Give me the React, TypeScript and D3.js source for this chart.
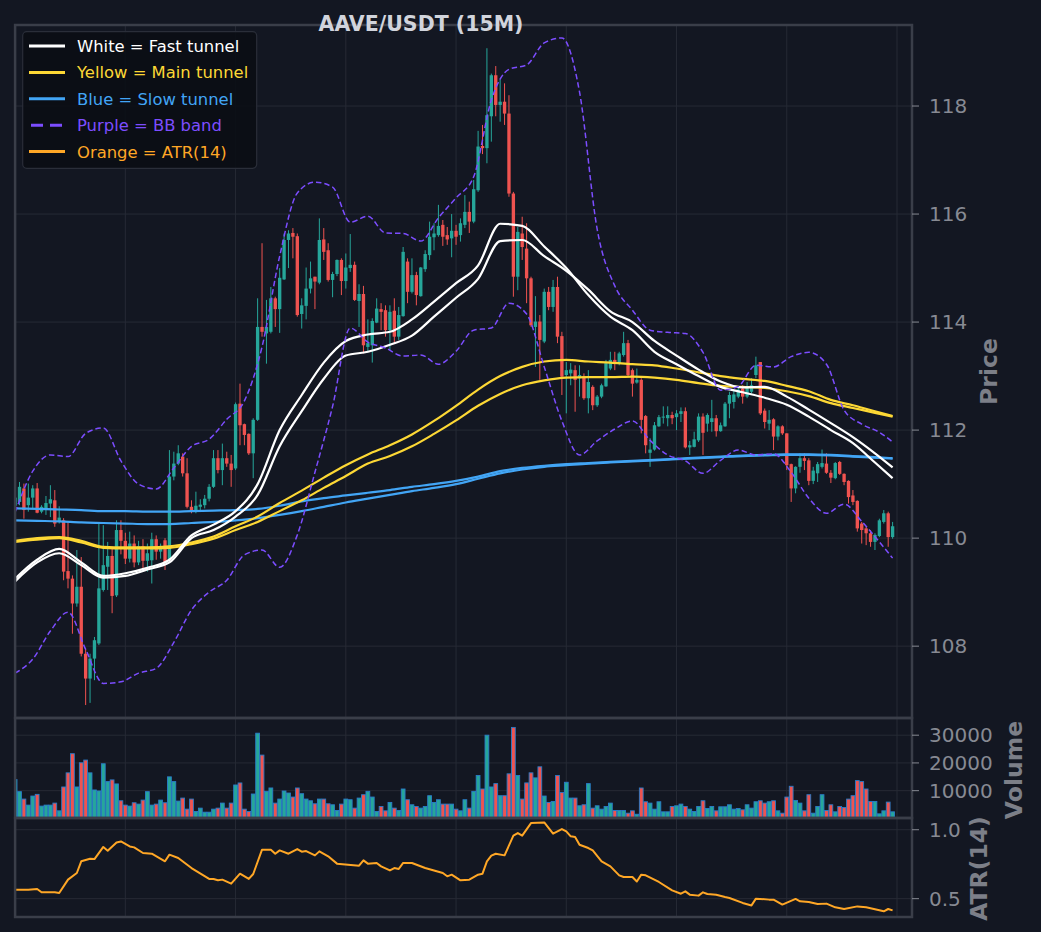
import * as d3 from "d3";

// --- 数据 ---
const opens = [
  110.6, 110.67, 110.92, 110.61, 110.75, 110.92, 110.49, 110.55, 110.64, 110.7,
  110.3, 110.33, 109.39, 109.25, 108.79, 109.1, 107.86, 107.4, 107.77, 108.05,
  109.04, 109.47, 109.67, 108.94, 110.15, 109.95, 109.62, 109.9, 109.55, 109.85,
  109.58, 109.59, 109.98, 109.75, 109.96, 109.6, 111.14, 111.38, 111.51, 111.2,
  110.58, 110.52, 110.58, 110.61, 110.73, 110.95, 111.48, 111.26, 111.48, 111.38,
  111.29, 112.49, 112.11, 111.93, 111.57, 112.19, 113.91, 113.79, 113.82, 114.44,
  114.24, 114.79, 115.52, 115.65, 115.59, 114.15, 114.3, 114.62, 114.84, 114.73,
  115.53, 115.33, 114.78, 114.89, 115.15, 114.76, 115.0, 115.06, 114.39, 114.52,
  113.54, 113.57, 113.99, 114.24, 114.22, 113.85, 114.21, 113.73, 114.11, 115.12,
  114.56, 114.87, 114.48, 114.98, 115.24, 115.57, 115.61, 115.8, 115.61, 115.55,
  115.69, 115.61, 115.8, 116.04, 115.86, 116.44, 117.26, 117.22, 117.81, 118.57,
  118.02, 118.08, 117.86, 116.38, 114.84, 115.64, 115.36, 114.81, 113.91, 114.01,
  113.64, 114.56, 114.28, 114.65, 113.74, 113.02, 113.05, 113.11, 112.96, 112.99,
  112.59, 112.8, 112.46, 112.62, 112.81, 113.14, 113.3, 113.24, 113.39, 113.61,
  113.11, 112.88, 112.93, 112.26, 111.58, 111.64, 112.07, 112.24, 112.22, 112.28,
  112.24, 112.3, 112.35, 111.68, 111.69, 111.81, 112.25, 112.12, 112.15, 112.22,
  111.98, 112.07, 112.49, 112.52, 112.62, 112.77, 112.62, 112.71, 113.02, 113.26,
  112.36, 112.12, 112.2, 111.88, 112.07, 111.94, 111.37, 110.92, 111.32, 111.48,
  111.44, 111.06, 111.2, 111.32, 111.38, 111.21, 111.11, 111.41, 111.19, 111.06,
  110.79, 110.69, 110.27, 110.18, 110.09, 109.93, 110.04, 110.3, 110.46, 110.02,
];
const highs = [
  110.95, 111.04, 111.01, 111.01, 110.98, 111.02, 110.61, 110.78, 110.98, 110.89,
  110.59, 110.37, 110.3, 109.31, 109.78, 109.65, 107.95, 107.86, 108.17, 110.27,
  110.24, 109.93, 109.84, 110.33, 110.33, 110.1, 110.12, 110.05, 109.95, 109.98,
  109.9, 110.1, 110.05, 109.9, 110.0, 111.63, 111.6, 111.72, 111.57, 111.48,
  110.7, 110.86, 110.72, 110.8, 111.0, 111.63, 111.63, 111.75, 111.6, 111.54,
  112.51, 112.86, 112.12, 111.94, 112.22, 114.44, 115.46, 114.41, 114.65, 114.47,
  115.0, 115.64, 115.7, 115.74, 115.64, 114.44, 115.01, 115.12, 114.84, 115.92,
  115.74, 115.46, 114.93, 115.16, 115.18, 115.27, 115.63, 115.12, 114.7, 114.67,
  114.05, 114.07, 114.44, 114.35, 114.31, 114.31, 114.44, 114.28, 115.39, 115.18,
  115.18, 114.93, 115.02, 115.33, 115.86, 115.83, 116.17, 115.89, 115.76, 116.0,
  115.8, 115.92, 116.35, 116.23, 116.63, 117.54, 117.65, 119.07, 118.6, 118.74,
  118.49, 118.42, 118.2, 116.41, 115.76, 115.95, 115.83, 114.84, 114.48, 114.13,
  114.62, 114.65, 114.78, 114.84, 113.82, 113.26, 113.24, 113.2, 113.2, 113.05,
  113.11, 112.83, 112.65, 112.86, 113.3, 113.45, 113.45, 113.45, 113.82, 113.67,
  113.14, 113.14, 112.96, 112.28, 111.85, 112.15, 112.28, 112.44, 112.44, 112.34,
  112.37, 112.42, 112.42, 111.8, 111.97, 112.31, 112.31, 112.31, 112.56, 112.28,
  112.14, 112.52, 112.71, 112.74, 112.8, 112.83, 112.89, 112.96, 113.36, 113.26,
  112.4, 112.37, 112.22, 112.09, 112.09, 111.94, 111.38, 111.33, 111.57, 111.57,
  111.48, 111.32, 111.41, 111.64, 111.57, 111.26, 111.41, 111.43, 111.2, 111.07,
  110.89, 110.7, 110.3, 110.21, 110.15, 110.09, 110.36, 110.52, 110.49, 110.3,
];
const lows = [
  110.5, 110.61, 110.36, 110.49, 110.55, 110.46, 110.46, 110.43, 110.39, 110.21,
  110.27, 109.22, 109.07, 108.23, 108.73, 107.81, 106.91, 106.95, 107.37, 108.02,
  109.01, 109.04, 108.61, 108.91, 109.7, 109.52, 109.55, 109.46, 109.5, 109.42,
  109.38, 109.16, 109.6, 109.62, 109.41, 109.55, 111.07, 111.35, 111.14, 110.55,
  110.46, 110.46, 110.5, 110.55, 110.68, 110.93, 111.2, 110.98, 111.32, 110.95,
  111.26, 111.72, 111.72, 111.54, 111.11, 112.17, 113.73, 113.23, 113.79, 113.91,
  113.8, 114.78, 115.0, 115.18, 114.1, 113.88, 114.05, 114.53, 114.24, 114.7,
  115.15, 114.75, 114.46, 114.85, 114.5, 114.62, 114.93, 114.39, 113.91, 113.42,
  113.45, 113.25, 113.98, 113.85, 113.73, 113.48, 113.61, 113.67, 114.1, 114.35,
  114.53, 114.31, 114.47, 114.93, 115.15, 115.33, 115.58, 115.41, 115.43, 115.2,
  115.43, 115.49, 115.74, 115.65, 115.83, 116.41, 117.11, 116.94, 117.34, 117.81,
  117.71, 117.65, 116.32, 114.47, 114.59, 115.15, 114.35, 113.91, 113.17, 112.93,
  113.61, 114.22, 114.19, 113.61, 112.65, 112.31, 112.83, 112.34, 112.62, 112.56,
  112.31, 112.37, 112.43, 112.59, 112.8, 113.11, 113.11, 113.2, 113.36, 112.99,
  112.62, 112.86, 111.94, 111.57, 111.32, 111.62, 112.06, 112.12, 112.07, 112.11,
  112.0, 112.15, 111.66, 111.54, 111.68, 111.78, 111.54, 111.97, 111.97, 111.88,
  111.97, 112.06, 112.22, 112.4, 112.59, 112.49, 112.59, 112.68, 112.96, 112.28,
  112.03, 112.0, 111.63, 111.81, 111.91, 111.26, 110.67, 110.83, 111.21, 111.26,
  110.98, 111.0, 111.04, 111.29, 111.19, 111.02, 111.09, 111.17, 110.98, 110.64,
  110.61, 110.12, 109.9, 109.87, 109.84, 109.78, 110.02, 110.27, 109.84, 109.99,
];
const closes = [
  110.75, 110.95, 110.52, 110.75, 110.92, 110.47, 110.58, 110.65, 110.72, 110.27,
  110.38, 109.38, 109.25, 108.79, 109.1, 107.86, 107.4, 107.77, 108.11, 109.07,
  109.5, 109.67, 108.93, 110.15, 109.95, 109.62, 109.9, 109.55, 109.85, 109.58,
  109.72, 109.98, 109.75, 109.82, 109.56, 111.14, 111.38, 111.57, 111.2, 110.58,
  110.52, 110.6, 110.62, 110.73, 110.95, 111.48, 111.26, 111.48, 111.38, 111.26,
  112.48, 112.09, 111.91, 111.57, 112.19, 113.91, 113.82, 113.91, 114.44, 114.24,
  114.82, 115.52, 115.64, 115.58, 114.13, 114.31, 114.62, 114.81, 114.75, 115.52,
  115.3, 114.78, 114.89, 115.15, 114.76, 115.01, 115.06, 114.41, 114.52, 113.57,
  113.61, 114.02, 114.25, 114.19, 113.85, 114.19, 113.73, 114.13, 115.3, 114.56,
  114.87, 114.5, 115.01, 115.26, 115.58, 115.64, 115.78, 115.58, 115.53, 115.69,
  115.58, 115.83, 116.04, 115.86, 116.46, 117.25, 117.22, 117.83, 118.57, 118.02,
  118.08, 117.86, 116.38, 114.84, 115.67, 115.39, 114.81, 113.94, 114.01, 113.67,
  114.56, 114.28, 114.65, 113.73, 112.99, 113.11, 113.12, 112.93, 113.02, 112.59,
  112.89, 112.46, 112.62, 112.83, 113.24, 113.3, 113.24, 113.42, 113.61, 113.02,
  112.86, 112.93, 112.19, 111.72, 111.64, 112.09, 112.24, 112.25, 112.28, 112.22,
  112.31, 112.35, 111.68, 111.72, 111.83, 112.25, 111.95, 112.28, 112.22, 111.98,
  112.09, 112.49, 112.65, 112.66, 112.75, 112.62, 112.81, 112.83, 113.2, 112.31,
  112.15, 112.19, 111.88, 112.07, 111.94, 111.35, 110.92, 111.32, 111.48, 111.43,
  111.06, 111.25, 111.37, 111.39, 111.21, 111.12, 111.39, 111.19, 111.04, 110.76,
  110.67, 110.18, 110.15, 110.09, 109.93, 110.06, 110.33, 110.46, 110.02, 110.22,
];
const volumes = [
  14000, 9640, 6970, 4790, 8060, 8670, 4430, 4790, 4790, 5520,
  2730, 11330, 16420, 23330, 11330, 20060, 21030, 16420, 10250, 9890,
  19700, 13270, 13880, 12430, 6360, 4790, 4430, 5640, 5150, 6600,
  9640, 4790, 5150, 6600, 5640, 14980, 13270, 6240, 7330, 3340,
  6970, 2490, 3700, 2240, 2240, 3340, 3700, 5520, 3700, 5520,
  12050, 12780, 3330, 2480, 8790, 30720, 22830, 9760, 10970, 5510,
  6970, 9880, 9150, 7700, 10970, 8900, 6970, 6360, 5270, 6970,
  6970, 5270, 4910, 2850, 5150, 6970, 6730, 3700, 7330, 8540,
  9760, 7700, 2480, 4300, 2730, 5760, 3700, 2850, 10600, 6730,
  4910, 4300, 3700, 4300, 8180, 5760, 6730, 5150, 5150, 5150,
  3330, 2730, 6730, 3700, 9750, 15450, 10600, 30000, 11330, 12540,
  8180, 8180, 16070, 32800, 15450, 6970, 12800, 16430, 14610, 18600,
  8060, 5760, 6120, 15450, 9390, 13030, 7330, 7330, 4550, 4910,
  12540, 3700, 4550, 3330, 4300, 5510, 2850, 2850, 2850, 1880,
  2730, 1500, 10970, 6000, 5510, 3330, 6000, 2370, 2370, 4300,
  4550, 5150, 4300, 3330, 2490, 4300, 6360, 3580, 4300, 2730,
  4180, 4180, 4910, 3330, 3580, 3090, 4910, 3700, 6000, 6360,
  5510, 6000, 6360, 2730, 1880, 7700, 11580, 6480, 5510, 2730,
  8540, 1880, 4300, 8540, 2850, 4910, 2370, 4300, 3940, 6970,
  8180, 13640, 13270, 10600, 6120, 6120, 1640, 2730, 5880, 2370,
];

// 通道线: 每 5 根 K 线读一个值
const lineIdx = [
  0, 5, 10, 15, 20, 25, 30, 35, 40, 45, 50, 55, 60, 65, 70, 75, 80, 85, 90, 95,
  100, 105, 110, 115, 120, 125, 130, 135, 140, 145, 150, 155, 160, 165, 170, 175,
  180, 185, 190, 195, 199,
];
const fastA = [
  109.25, 109.6, 109.8, 109.55, 109.3, 109.35, 109.45, 109.6, 110.05, 110.25,
  110.5, 111.0, 112.0, 112.65, 113.25, 113.65, 113.77, 113.82, 114.05, 114.38,
  114.72, 115.05, 115.82, 115.78, 115.4, 115.0, 114.5, 114.1, 113.85, 113.45,
  113.22, 113.0, 112.8, 112.7, 112.6, 112.47, 112.25, 112.0, 111.76, 111.4, 111.11,
];
const fastB = [
  109.2, 109.55, 109.72, 109.5, 109.27, 109.3, 109.42, 109.55, 110.0, 110.15,
  110.4, 110.8, 111.7, 112.35, 112.95, 113.38, 113.45, 113.58, 113.75, 114.1,
  114.45, 114.8, 115.5, 115.52, 115.22, 114.95, 114.6, 114.2, 114.0, 113.65,
  113.38, 113.12, 112.9, 112.79, 112.8, 112.62, 112.38, 112.13, 111.87, 111.57, 111.31,
];
const mainA = [
  109.95, 110.0, 110.02, 109.95, 109.84, 109.83, 109.83, 109.85, 109.92, 110.03,
  110.22, 110.4, 110.65, 110.88, 111.12, 111.35, 111.55, 111.72, 111.92, 112.17,
  112.45, 112.75, 113.0, 113.17, 113.27, 113.3, 113.27, 113.25, 113.22, 113.2,
  113.14, 113.07, 113.0, 112.95, 112.91, 112.82, 112.72, 112.56, 112.46, 112.35, 112.26,
];
const mainB = [
  109.93, 109.97, 110.0, 109.92, 109.82, 109.81, 109.81, 109.82, 109.89, 109.99,
  110.15, 110.3, 110.5, 110.7, 110.93, 111.15, 111.38, 111.52, 111.7, 111.93,
  112.18, 112.45, 112.67, 112.83, 112.92, 112.97, 112.98, 112.98, 112.99, 112.97,
  112.93, 112.87, 112.82, 112.8, 112.78, 112.72, 112.63, 112.5, 112.41, 112.32, 112.25,
];
const slowA = [
  110.55, 110.54, 110.53, 110.52, 110.5, 110.5, 110.49, 110.49, 110.5, 110.51,
  110.52, 110.54, 110.6, 110.68, 110.74, 110.79, 110.84, 110.89, 110.95, 111.0,
  111.06, 111.14, 111.24, 111.3, 111.34, 111.37, 111.39, 111.41, 111.43, 111.45,
  111.47, 111.49, 111.51, 111.53, 111.54, 111.55, 111.55, 111.54, 111.52, 111.5, 111.48,
];
const slowB = [
  110.33, 110.32, 110.31, 110.29, 110.28, 110.27, 110.26, 110.26, 110.28, 110.3,
  110.33, 110.37, 110.43, 110.5, 110.58, 110.66, 110.73, 110.8, 110.87, 110.93,
  111.0, 111.1, 111.2, 111.27, 111.32, 111.35, 111.38, 111.4, 111.42, 111.44,
  111.46, 111.48, 111.5, 111.52, 111.53, 111.54, 111.54, 111.53, 111.51, 111.49, 111.47,
];

// 布林带: 每 4 根读一个值
const bbIdx = [
  0, 4, 8, 12, 16, 20, 24, 28, 32, 36, 40, 44, 48, 52, 56, 60, 64, 68, 72, 76,
  80, 84, 88, 92, 96, 100, 104, 108, 112, 116, 120, 124, 128, 132, 136, 140, 144,
  148, 152, 156, 160, 164, 168, 172, 176, 180, 184, 188, 192, 196, 199,
];
const bbUpper = [
  110.48, 111.24, 111.54, 111.51, 111.94, 112.04, 111.43, 111.0, 110.91, 111.3,
  111.7, 111.83, 112.2, 112.54, 113.54, 115.22, 116.39, 116.59, 116.5, 115.85,
  115.96, 115.65, 115.64, 115.5, 115.93, 116.3, 116.69, 118.11, 118.68, 118.76,
  119.17, 119.26, 118.26, 115.72, 114.67, 114.22, 113.85, 113.81, 113.79, 113.44,
  112.74, 112.81, 113.2, 113.17, 113.36, 113.44, 113.22, 112.37, 112.11, 111.96, 111.78,
];
const bbLower = [
  107.5, 107.76, 108.28, 108.63, 107.94, 107.31, 107.34, 107.5, 107.59, 108.07,
  108.67, 109.0, 109.22, 109.69, 109.78, 109.46, 110.06, 111.22, 112.44, 113.89,
  113.63, 113.52, 113.37, 113.39, 113.22, 113.46, 113.85, 113.89, 114.35, 114.15,
  113.17, 112.17, 111.54, 111.8, 112.02, 112.17, 111.81, 111.54, 111.43, 111.2,
  111.44, 111.63, 111.54, 111.56, 111.22, 110.74, 110.46, 110.63, 110.31, 109.93, 109.63,
];

// ATR(14): 折线拐点
const atrIdx = [
  0, 3, 5, 6, 9, 10, 12, 14, 15, 17, 18, 20, 21, 23, 24, 26, 27, 29, 31, 34,
  35, 37, 40, 44, 45, 46, 47, 49, 51, 53, 54, 56, 58, 59, 60, 62, 64, 65, 66, 68,
  69, 71, 73, 78, 79, 80, 82, 83, 85, 86, 87, 88, 90, 93, 97, 98, 99, 101, 103, 105,
  106, 107, 108, 109, 111, 113, 114, 115, 117, 120, 122, 124, 125, 126, 127, 128, 130, 131, 133, 135,
  137, 138, 140, 141, 142, 143, 146, 149, 151, 152, 153, 155, 156, 157, 159, 161, 162, 165, 167, 168,
  171, 172, 174, 177, 178, 180, 182, 184, 186, 188, 191, 193, 197, 198, 199,
];
const atrVals = [
  0.565, 0.565, 0.57, 0.546, 0.546, 0.541, 0.638, 0.686, 0.771, 0.79, 0.787, 0.875, 0.848, 0.908, 0.915, 0.879, 0.872, 0.831, 0.826, 0.771,
  0.819, 0.795, 0.722, 0.643, 0.643, 0.633, 0.638, 0.609, 0.681, 0.643, 0.679, 0.855, 0.855, 0.826, 0.85, 0.826, 0.86, 0.841, 0.845, 0.814,
  0.843, 0.807, 0.754, 0.739, 0.778, 0.754, 0.759, 0.734, 0.705, 0.722, 0.715, 0.759, 0.759, 0.722, 0.686, 0.662, 0.674, 0.633, 0.638, 0.674,
  0.681, 0.771, 0.812, 0.826, 0.814, 0.957, 0.976, 0.957, 1.048, 1.053, 0.971, 1.005, 0.988, 0.952, 0.947, 0.891, 0.867, 0.85, 0.771, 0.734,
  0.669, 0.657, 0.657, 0.625, 0.674, 0.669, 0.621, 0.56, 0.536, 0.553, 0.529, 0.522, 0.546, 0.534, 0.529, 0.512, 0.505, 0.469, 0.451, 0.5,
  0.493, 0.493, 0.457, 0.498, 0.481, 0.476, 0.462, 0.464, 0.437, 0.425, 0.444, 0.437, 0.408, 0.425, 0.415,
];

const priceTicks = [108, 110, 112, 114, 116, 118];
const volTicks = [10000, 20000, 30000];
const atrTicks = [0.5, 1.0];
const xGrid = [0, 25, 50, 75, 100, 125, 150, 175, 200];

const legendItems = [
  { label: "White = Fast tunnel", color: "#ffffff", dash: "" },
  { label: "Yellow = Main tunnel", color: "#fdd835", dash: "" },
  { label: "Blue = Slow tunnel", color: "#42a5f5", dash: "" },
  { label: "Purple = BB band", color: "#7c4dff", dash: "12,7" },
  { label: "Orange = ATR(14)", color: "#ffa726", dash: "" },
];

const BG = "#131722";
const GRID = "#262a35";
const SPINE = "#3a3e49";
const TICK = "#878a93";
const UP = "#26a69a";
const DOWN = "#ef5350";
const FONT = "DejaVu Sans, sans-serif";

export default function App() {
  const left = 15.1;
  const right = 912;
  const top = 25;
  const mainBot = 718;
  const volBot = 818;
  const atrBot = 917;

  const x = d3.scaleLinear().domain([0, 203.4]).range([left, right]);
  const y = d3.scaleLinear().domain([106.67, 119.5]).range([mainBot, top]);
  const yv = d3.scaleLinear().domain([0, 36200]).range([volBot + 0.4, mainBot]);
  const ya = d3.scaleLinear().domain([0.367, 1.085]).range([atrBot, volBot]);

  const step = x(1) - x(0);
  const bodyW = step * 0.76;
  const volW = step * 0.86;

  const tunnel = (vals: number[]) =>
    d3
      .line<number>()
      .x((_, i) => x(lineIdx[i]))
      .y((v) => y(v))
      .curve(d3.curveMonotoneX)(vals) ?? "";
  const band = (vals: number[]) =>
    d3
      .line<number>()
      .x((_, i) => x(bbIdx[i]))
      .y((v) => y(v))
      .curve(d3.curveMonotoneX)(vals) ?? "";
  const atrPath =
    d3
      .line<number>()
      .x((_, i) => x(atrIdx[i]))
      .y((v) => ya(v))(atrVals) ?? "";

  const candles = opens.map((o, i) => ({
    i,
    o,
    h: highs[i],
    l: lows[i],
    c: closes[i],
    v: volumes[i],
    up: closes[i] >= o,
  }));

  return (
    <svg
      width={1041}
      height={932}
      style={{ position: "absolute", left: 0, top: 0, display: "block", background: BG }}
      fontFamily={FONT}
    >
      <defs>
        <clipPath id="clip-main">
          <rect x={left + 0.5} y={top} width={right - left - 0.5} height={mainBot - top} />
        </clipPath>
        <clipPath id="clip-vol">
          <rect x={left + 0.5} y={mainBot} width={right - left - 0.5} height={volBot - mainBot} />
        </clipPath>
        <clipPath id="clip-atr">
          <rect x={left + 0.5} y={volBot} width={right - left - 0.5} height={atrBot - volBot} />
        </clipPath>
      </defs>
      <rect x={0} y={0} width={1041} height={932} fill={BG} />

      {/* 网格 */}
      <g stroke={GRID} strokeWidth={1}>
        {xGrid.map((t) => (
          <line key={"gx" + t} x1={x(t)} x2={x(t)} y1={top} y2={atrBot} />
        ))}
        {priceTicks.map((t) => (
          <line key={"gp" + t} x1={left} x2={right} y1={y(t)} y2={y(t)} />
        ))}
        {volTicks.map((t) => (
          <line key={"gv" + t} x1={left} x2={right} y1={yv(t)} y2={yv(t)} />
        ))}
        {atrTicks.map((t) => (
          <line key={"ga" + t} x1={left} x2={right} y1={ya(t)} y2={ya(t)} />
        ))}
      </g>

      {/* K 线 */}
      <g clipPath="url(#clip-main)">
        {candles.map((d) => {
          const cx = x(d.i);
          const col = d.up ? UP : DOWN;
          const yTop = y(Math.max(d.o, d.c));
          const yBot = y(Math.min(d.o, d.c));
          return (
            <g key={"c" + d.i}>
              <line x1={cx} x2={cx} y1={y(d.h)} y2={y(d.l)} stroke={col} strokeWidth={1} />
              <rect
                x={cx - bodyW / 2}
                y={yTop}
                width={bodyW}
                height={Math.max(1, yBot - yTop)}
                fill={col}
              />
            </g>
          );
        })}

        {/* 通道线 */}
        <g fill="none" strokeWidth={2.2} strokeLinejoin="round">
          <path d={tunnel(slowA)} stroke="#42a5f5" />
          <path d={tunnel(slowB)} stroke="#42a5f5" />
          <path d={tunnel(mainA)} stroke="#fdd835" />
          <path d={tunnel(mainB)} stroke="#fdd835" />
          <path d={tunnel(fastA)} stroke="#ffffff" />
          <path d={tunnel(fastB)} stroke="#ffffff" />
        </g>
        <g fill="none" stroke="#7c4dff" strokeWidth={1.5} strokeDasharray="5.5,3">
          <path d={band(bbUpper)} />
          <path d={band(bbLower)} />
        </g>
      </g>

      {/* 成交量 */}
      <g clipPath="url(#clip-vol)">
        {candles.map((d) => (
          <rect
            key={"v" + d.i}
            x={x(d.i) - volW / 2}
            y={yv(d.v)}
            width={volW}
            height={volBot - yv(d.v)}
            fill={d.up ? UP : DOWN}
            stroke="#2a7cc9"
            strokeWidth={0.9}
          />
        ))}
      </g>

      {/* ATR */}
      <g clipPath="url(#clip-atr)">
        <path d={atrPath} fill="none" stroke="#ffa726" strokeWidth={2} strokeLinejoin="round" />
      </g>

      {/* 边框 */}
      <g fill="none" stroke={SPINE} strokeWidth={2.5}>
        <rect x={left} y={top} width={right - left} height={mainBot - top} />
        <rect x={left} y={mainBot} width={right - left} height={volBot - mainBot} />
        <rect x={left} y={volBot} width={right - left} height={atrBot - volBot} />
      </g>

      {/* 右侧刻度 */}
      <g fill={TICK} fontSize={20}>
        {priceTicks.map((t) => (
          <g key={"tp" + t}>
            <line x1={right} x2={right + 7} y1={y(t)} y2={y(t)} stroke={TICK} strokeWidth={1} />
            <text x={right + 17} y={y(t)} dy="0.35em">
              {t}
            </text>
          </g>
        ))}
        {volTicks.map((t) => (
          <g key={"tv" + t}>
            <line x1={right} x2={right + 7} y1={yv(t)} y2={yv(t)} stroke={TICK} strokeWidth={1} />
            <text x={right + 17} y={yv(t)} dy="0.35em">
              {t}
            </text>
          </g>
        ))}
        {atrTicks.map((t) => (
          <g key={"ta" + t}>
            <line x1={right} x2={right + 7} y1={ya(t)} y2={ya(t)} stroke={TICK} strokeWidth={1} />
            <text x={right + 17} y={ya(t)} dy="0.35em">
              {t.toFixed(1)}
            </text>
          </g>
        ))}
      </g>

      {/* 轴标题 */}
      <g fill="#7c7f88" fontSize={23.5} fontWeight="bold" textAnchor="middle">
        <text transform={`translate(997,${(top + mainBot) / 2}) rotate(-90)`}>Price</text>
        <text transform={`translate(1022,${(mainBot + volBot) / 2 + 2}) rotate(-90)`}>Volume</text>
        <text transform={`translate(987,${(volBot + atrBot) / 2 + 1}) rotate(-90)`}>ATR(14)</text>
      </g>

      {/* 标题 */}
      <text x={421} y={31} textAnchor="middle" fontSize={20.5} fontWeight="bold" fill="#d1d4dc">
        AAVE/USDT (15M)
      </text>

      {/* 图例 */}
      <g>
        <rect x={22.7} y={31.7} width={234} height={136.6} rx={4} fill="#0b0e15" fillOpacity={0.92} stroke="#2a2e39" strokeWidth={1.2} />
        {legendItems.map((it, k) => {
          const ly = 46 + k * 26.4;
          return (
            <g key={it.label}>
              <line
                x1={29}
                x2={65}
                y1={ly}
                y2={ly}
                stroke={it.color}
                strokeWidth={3}
                strokeDasharray={it.dash || undefined}
                strokeDashoffset={it.dash ? -2 : 0}
              />
              <text x={77} y={ly} dy="0.36em" fontSize={16.4} fill={it.color}>
                {it.label}
              </text>
            </g>
          );
        })}
      </g>
    </svg>
  );
}
